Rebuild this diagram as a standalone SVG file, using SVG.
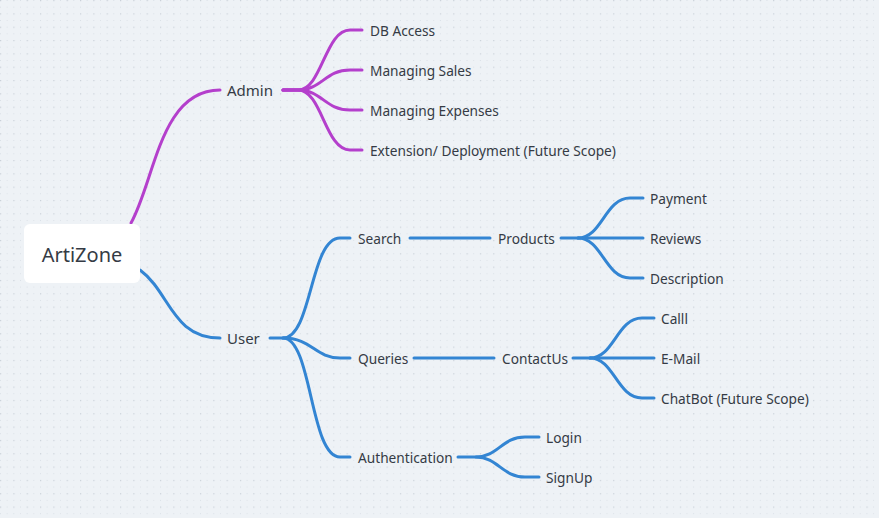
<svg xmlns="http://www.w3.org/2000/svg" width="879" height="518" viewBox="0 0 879 518">
<defs>
<pattern id="dots" width="13.33" height="13.33" patternUnits="userSpaceOnUse">
<rect x="0" y="0" width="1.2" height="1.2" fill="#c8cfd7"/>
<rect x="6.67" y="0" width="1" height="1" fill="#d9dfe6"/>
<rect x="0" y="6.67" width="1" height="1" fill="#d9dfe6"/>
<rect x="6.67" y="6.67" width="1" height="1" fill="#dde2e8"/>
</pattern>
<style>
.t{font-family:"Noto Sans","DejaVu Sans",sans-serif;font-size:13.7px;fill:#353b45;dominant-baseline:central}
.b{fill:none;stroke:#3385d3;stroke-width:3;stroke-linecap:round}
.p{fill:none;stroke:#b43fcc;stroke-width:3;stroke-linecap:round}
</style>
</defs>
<rect width="879" height="518" fill="#eef2f6"/>
<rect width="879" height="518" fill="url(#dots)"/>
<g id="connectors">
<path class="p" d="M131,223 C155,180 160,90 220,90"/>
<path class="p" d="M283,90 L298,90 C322,90 325,30 350,30 L362,30"/>
<path class="p" d="M283,90 L298,90 C322,90 325,70 350,70 L362,70"/>
<path class="p" d="M283,90 L298,90 C322,90 325,110 350,110 L362,110"/>
<path class="p" d="M283,90 L298,90 C322,90 325,150 350,150 L362,150"/>
<path class="b" d="M140,270 C170,292 172,338 220,338"/>
<path class="b" d="M270,338 L283,338 C312,338 310,238 340,238 L350,238"/>
<path class="b" d="M283,338 C312,338 315,358 340,358 L350,358"/>
<path class="b" d="M283,338 C312,338 310,457 340,457 L350,457"/>
<path class="b" d="M410,238 L490,238"/>
<path class="b" d="M414,358 L494,358"/>
<path class="b" d="M561,238 L578,238 C602,238 605,198 630,198 L643,198"/>
<path class="b" d="M578,238 L643,238"/>
<path class="b" d="M578,238 C602,238 605,278 630,278 L643,278"/>
<path class="b" d="M573,358 L590,358 C614,358 617,318 642,318 L654,318"/>
<path class="b" d="M590,358 L654,358"/>
<path class="b" d="M590,358 C614,358 617,398 642,398 L654,398"/>
<path class="b" d="M458,457 L476,457 C498,457 502,437 525,437 L539,437"/>
<path class="b" d="M476,457 C498,457 502,477 525,477 L539,477"/>
</g>
<g id="root">
<rect x="24" y="224" width="116" height="59" rx="6" fill="#ffffff"/>
<text class="t" x="82" y="254" text-anchor="middle" style="font-size:20px">ArtiZone</text>
</g>
<g id="admin"><text class="t" x="227" y="90" style="font-size:15px">Admin</text></g>
<g id="db"><text class="t" x="370" y="30">DB Access</text></g>
<g id="sales"><text class="t" x="370" y="70">Managing Sales</text></g>
<g id="expenses"><text class="t" x="370" y="110">Managing Expenses</text></g>
<g id="extension"><text class="t" x="370" y="150">Extension/ Deployment (Future Scope)</text></g>
<g id="user"><text class="t" x="227" y="338" style="font-size:15px">User</text></g>
<g id="search"><text class="t" x="358" y="238">Search</text></g>
<g id="products"><text class="t" x="498" y="238">Products</text></g>
<g id="payment"><text class="t" x="650" y="198">Payment</text></g>
<g id="reviews"><text class="t" x="650" y="238">Reviews</text></g>
<g id="description"><text class="t" x="650" y="278">Description</text></g>
<g id="queries"><text class="t" x="358" y="358">Queries</text></g>
<g id="contactus"><text class="t" x="502" y="358">ContactUs</text></g>
<g id="call"><text class="t" x="661" y="318">Calll</text></g>
<g id="email"><text class="t" x="661" y="358">E-Mail</text></g>
<g id="chatbot"><text class="t" x="661" y="398">ChatBot (Future Scope)</text></g>
<g id="auth"><text class="t" x="358" y="457">Authentication</text></g>
<g id="login"><text class="t" x="546" y="437">Login</text></g>
<g id="signup"><text class="t" x="546" y="477">SignUp</text></g>
</svg>
